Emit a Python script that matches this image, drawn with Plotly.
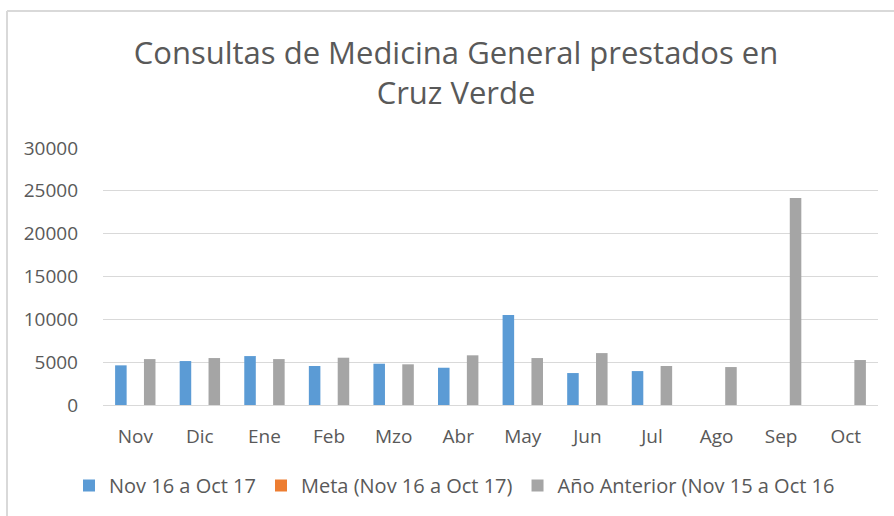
import plotly.graph_objects as go

months = ["Nov", "Dic", "Ene", "Feb", "Mzo", "Abr", "May", "Jun", "Jul", "Ago", "Sep", "Oct"]
actual = [4630, 5130, 5710, 4550, 4820, 4350, 10500, 3730, 3960, None, None, None]
meta = [None] * 12
prev_year = [5360, 5480, 5360, 5520, 4750, 5800, 5480, 6060, 4550, 4430, 24170, 5250]
y_ticks = [0, 5000, 10000, 15000, 20000, 25000, 30000]

names = ["Nov 16 a Oct 17", "Meta (Nov 16 a Oct 17)", "Año Anterior (Nov 15 a Oct 16"]
colors = ["#5B9BD5", "#ED7D31", "#A5A5A5"]

W, H = 894, 516
L, R, T, B = 103, 16, 148, 111
pw, ph = W - L - R, H - T - B

fig = go.Figure()
for name, vals, col in zip(names, [actual, meta, prev_year], colors):
    fig.add_trace(go.Bar(x=months, y=vals, name=name, marker_color=col,
                         marker_line_width=0))

font_fam = "Open Sans, Liberation Sans, sans-serif"
txt = "#595959"

def px_x(p):
    return (p - L) / pw

def px_y(p):
    return (H - B - p) / ph

fig.update_layout(
    width=W, height=H,
    margin=dict(l=L, r=R, t=T, b=B, autoexpand=False),
    paper_bgcolor="white", plot_bgcolor="white",
    font=dict(family=font_fam, color=txt, size=19),
    title=dict(text="Consultas de Medicina General prestados en<br>Cruz Verde",
               x=456 / W, xanchor="center", xref="container",
               y=1 - 64 / H, yanchor="top", yref="container",
               font=dict(size=31, color=txt, family=font_fam)),
    barmode="group", bargap=0.33, bargroupgap=0.2,
    xaxis=dict(showgrid=False, showline=False, ticks="", ticklabelstandoff=18,
               automargin=False, tickfont=dict(size=19, color=txt)),
    yaxis=dict(range=[0, 30000], tickvals=y_ticks, tickformat="d", showgrid=True,
               gridcolor="#D9D9D9", gridwidth=1, zeroline=True,
               zerolinecolor="#D9D9D9", zerolinewidth=1, showline=False,
               automargin=False,
               ticks="", ticklabelstandoff=24, tickfont=dict(size=19, color=txt)),
    legend=dict(orientation="h", xref="container", yref="container",
                x=69 / W, xanchor="left", y=1 - 466 / H, yanchor="top",
                font=dict(size=20, color=txt), itemwidth=30, traceorder="normal",
                bgcolor="rgba(0,0,0,0)"),
    showlegend=True,
    shapes=[
        dict(type="line", xref="paper", yref="paper", x0=px_x(7), x1=px_x(7),
             y0=px_y(11), y1=px_y(530), line=dict(color="#D9D9D9", width=2)),
        dict(type="line", xref="paper", yref="paper", x0=px_x(7), x1=px_x(910),
             y0=px_y(11), y1=px_y(11), line=dict(color="#D9D9D9", width=2)),
    ],
)

fig.write_html("out.html", config={"displayModeBar": False},
               post_script="document.body.style.margin='0';document.body.style.overflow='hidden';")
